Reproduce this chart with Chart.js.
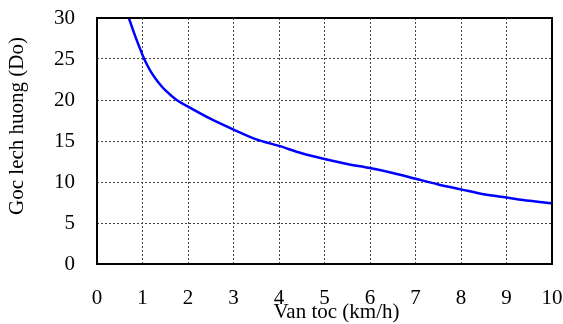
<!DOCTYPE html>
<html>
<head>
<meta charset="utf-8">
<script src="https://cdn.jsdelivr.net/npm/chart.js@4"></script>
<style>
    html, body { margin: 0; padding: 0; background: #ffffff; }
    #chart-wrap { width: 563px; height: 324px; }
</style>
</head>
<body>
<div id="chart-wrap"><canvas id="chart-angle"></canvas></div>
<script>
// speed (km/h) and heading deviation angle (degrees)
const speedValues = [0.7, 0.8, 0.9, 1.0, 1.1, 1.2, 1.3, 1.4, 1.5, 1.75, 2, 2.5, 3, 3.5, 4, 4.5, 5, 5.5, 6, 6.5, 7, 7.5, 8, 8.5, 9, 9.5, 10];
const angleValues = [30, 28.4, 26.9, 25.5, 24.3, 23.3, 22.5, 21.8, 21.2, 20.0, 19.2, 17.7, 16.4, 15.2, 14.4, 13.5, 12.8, 12.2, 11.7, 11.1, 10.4, 9.7, 9.1, 8.5, 8.1, 7.7, 7.4];
const xTicks = [0, 1, 2, 3, 4, 5, 6, 7, 8, 9, 10];
const yTicks = [0, 5, 10, 15, 20, 25, 30];
const xTitle = 'Van toc (km/h)';
const yTitle = 'Goc lech huong (Do)';

const FONT = "'Liberation Serif', 'Times New Roman', serif";
const FONT_SIZE = 21;

// frame + axis titles
const framePlugin = {
    id: 'frame',
    afterDraw(chart) {
        const ctx = chart.ctx;
        const a = chart.chartArea;
        ctx.save();
        ctx.strokeStyle = '#000000';
        ctx.lineWidth = 2;
        ctx.strokeRect(a.left, a.top, a.right - a.left, a.bottom - a.top);

        ctx.fillStyle = '#000000';
        ctx.font = FONT_SIZE + 'px ' + FONT;
        ctx.textAlign = 'center';
        ctx.textBaseline = 'middle';
        ctx.fillText(xTitle, (a.left + a.right) / 2 + 12, chart.height - 12);

        ctx.translate(17, (a.top + a.bottom) / 2 - 15);
        ctx.rotate(-Math.PI / 2);
        ctx.fillText(yTitle, 0, 0);
        ctx.restore();
    }
};

// keep tick labels from pushing the plot area around
function noPadding(scale) {
    scale.paddingTop = 0;
    scale.paddingBottom = 0;
    scale.paddingLeft = 0;
    scale.paddingRight = 0;
}

const points = speedValues.map((v, i) => ({ x: v, y: angleValues[i] }));

new Chart('chart-angle', {
    type: 'line',
    plugins: [framePlugin],
    data: {
        datasets: [{
            data: points,
            borderColor: '#0000ff',
            borderWidth: 2.5,
            pointRadius: 0,
            fill: false,
            cubicInterpolationMode: 'monotone'
        }]
    },
    options: {
        responsive: true,
        maintainAspectRatio: false,
        animation: false,
        layout: { padding: { top: 18, right: 11, left: 0, bottom: 0 } },
        plugins: {
            legend: { display: false },
            tooltip: { enabled: false }
        },
        scales: {
            x: {
                type: 'linear',
                min: 0,
                max: 10,
                afterBuildTicks: (scale) => { scale.ticks = xTicks.map(v => ({ value: v })); },
                afterFit: (scale) => { scale.height = 60; noPadding(scale); },
                ticks: {
                    color: '#000000',
                    font: { family: FONT, size: FONT_SIZE },
                    padding: 22,
                    maxRotation: 0
                },
                grid: {
                    color: '#444444',
                    lineWidth: 1,
                    drawTicks: false
                },
                border: { display: false, dash: [2, 2] }
            },
            y: {
                min: 0,
                max: 30,
                afterBuildTicks: (scale) => { scale.ticks = yTicks.map(v => ({ value: v })); },
                afterFit: (scale) => { scale.width = 97; noPadding(scale); },
                ticks: {
                    color: '#000000',
                    font: { family: FONT, size: FONT_SIZE },
                    padding: 22
                },
                grid: {
                    color: '#444444',
                    lineWidth: 1,
                    drawTicks: false
                },
                border: { display: false, dash: [2, 2] }
            }
        }
    }
});
</script>
</body>
</html>
